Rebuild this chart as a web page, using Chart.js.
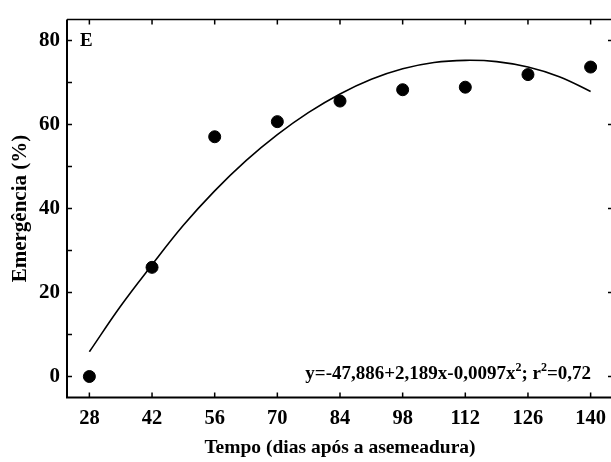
<!DOCTYPE html>
<html>
<head>
<meta charset="utf-8">
<script src="https://cdn.jsdelivr.net/npm/chart.js@4/dist/chart.umd.min.js"></script>
<style>
html, body { margin: 0; padding: 0; overflow: hidden; background: #fff; }
#wrap { width: 611px; height: 462px; overflow: hidden; }
</style>
</head>
<body>
<div id="wrap"><canvas id="chart" width="620" height="462"></canvas></div>
<script>
// observed emergence (%)
const dias = [28, 42, 56, 70, 84, 98, 112, 126, 140]
const emergencia = [0, 26, 57.1, 60.7, 65.6, 68.3, 68.9, 71.9, 73.7]

// fitted curve
const curvaX = [28, 35, 42, 49, 56, 63, 70, 77, 84, 91, 98, 105, 112, 119, 126, 133, 140]
const curvaY = [5.9, 16.8, 26.6, 36, 44.2, 51.4, 57.6, 62.9, 67.3, 70.8, 73.3, 74.8, 75.3, 75, 73.7, 71.4, 67.9]

const xTicks = [28, 42, 56, 70, 84, 98, 112, 126, 140]
const yTicks = [0, 10, 20, 30, 40, 50, 60, 70, 80]
const yLabels = [0, 20, 40, 60, 80]

const FONT = "'Liberation Serif', 'Times New Roman', serif"

const moldura = {
    id: 'moldura',
    afterDraw(chart) {
        const ctx = chart.ctx
        const a = chart.chartArea
        const x = chart.scales.x
        const y = chart.scales.y
        ctx.save()
        ctx.strokeStyle = '#000'

        // frame
        ctx.lineWidth = 2
        ctx.beginPath()
        ctx.moveTo(a.left, a.top); ctx.lineTo(a.left, a.bottom); ctx.lineTo(a.right, a.bottom)
        ctx.stroke()
        ctx.lineWidth = 1.5
        ctx.beginPath()
        ctx.moveTo(a.left, a.top); ctx.lineTo(a.right, a.top); ctx.lineTo(a.right, a.bottom)
        ctx.stroke()

        // inward ticks
        ctx.lineWidth = 1.5
        ctx.beginPath()
        xTicks.forEach(v => {
            const px = x.getPixelForValue(v)
            ctx.moveTo(px, a.bottom); ctx.lineTo(px, a.bottom - 5)
            ctx.moveTo(px, a.top); ctx.lineTo(px, a.top + 5)
        })
        yTicks.forEach(v => {
            const py = y.getPixelForValue(v)
            ctx.moveTo(a.left, py); ctx.lineTo(a.left + 5, py)
        })
        yLabels.forEach(v => {
            const py = y.getPixelForValue(v)
            ctx.moveTo(a.right, py); ctx.lineTo(a.right - 5, py)
        })
        ctx.stroke()

        // panel letter
        ctx.fillStyle = '#000'
        ctx.font = 'bold 19px ' + FONT
        ctx.textBaseline = 'alphabetic'
        ctx.textAlign = 'left'
        ctx.fillText('E', 80, 46)

        // equation
        const partes = [
            ['y=-47,886+2,189x-0,0097x', false],
            ['2', true],
            ['; r', false],
            ['2', true],
            ['=0,72', false]
        ]
        const base = 379
        let w = 0
        partes.forEach(p => {
            ctx.font = (p[1] ? 'bold 12px ' : 'bold 19px ') + FONT
            w += ctx.measureText(p[0]).width
        })
        let cx = 591 - w
        partes.forEach(p => {
            ctx.font = (p[1] ? 'bold 12px ' : 'bold 19px ') + FONT
            ctx.fillText(p[0], cx, p[1] ? base - 8 : base)
            cx += ctx.measureText(p[0]).width
        })
        ctx.restore()
    }
}

new Chart('chart', {
    type: 'scatter',
    data: {
        datasets: [
            {
                label: 'observado',
                data: dias.map((d, i) => ({x: d, y: emergencia[i]})),
                backgroundColor: '#000',
                borderColor: '#000',
                pointRadius: 6,
                pointHoverRadius: 6
            },
            {
                label: 'ajuste',
                data: curvaX.map((d, i) => ({x: d, y: curvaY[i]})),
                showLine: true,
                borderColor: '#000',
                borderWidth: 1.6,
                pointRadius: 0,
                tension: 0.4,
                fill: false
            }
        ]
    },
    options: {
        responsive: false,
        animation: false,
        events: [],
        layout: { padding: { top: 12.5, right: 4, left: 0, bottom: 0 } },
        plugins: { legend: { display: false }, tooltip: { enabled: false } },
        scales: {
            x: {
                type: 'linear',
                min: 23,
                max: 145,
                afterBuildTicks: s => { s.ticks = xTicks.map(v => ({value: v})) },
                afterFit: s => { s.height = 64.5 },
                grid: { display: false, drawTicks: false },
                border: { display: false },
                ticks: {
                    color: '#000',
                    padding: 9,
                    font: { family: FONT, size: 20.5, weight: 'bold' },
                    callback: v => String(v)
                },
                title: {
                    display: true,
                    text: 'Tempo (dias após a asemeadura)',
                    color: '#000',
                    font: { family: FONT, size: 19.5, weight: 'bold' },
                    padding: { top: 0, bottom: 2 }
                }
            },
            y: {
                type: 'linear',
                min: -5,
                max: 85,
                afterBuildTicks: s => { s.ticks = yLabels.map(v => ({value: v})) },
                afterFit: s => { s.width = 67 },
                grid: { display: false, drawTicks: false },
                border: { display: false },
                ticks: {
                    color: '#000',
                    padding: 7,
                    font: { family: FONT, size: 21, weight: 'bold' },
                    callback: v => String(v)
                },
                title: {
                    display: true,
                    text: 'Emergência (%)',
                    color: '#000',
                    font: { family: FONT, size: 21, weight: 'bold' },
                    padding: { top: 8, bottom: 0 }
                }
            }
        }
    },
    plugins: [moldura]
})
</script>
</body>
</html>
